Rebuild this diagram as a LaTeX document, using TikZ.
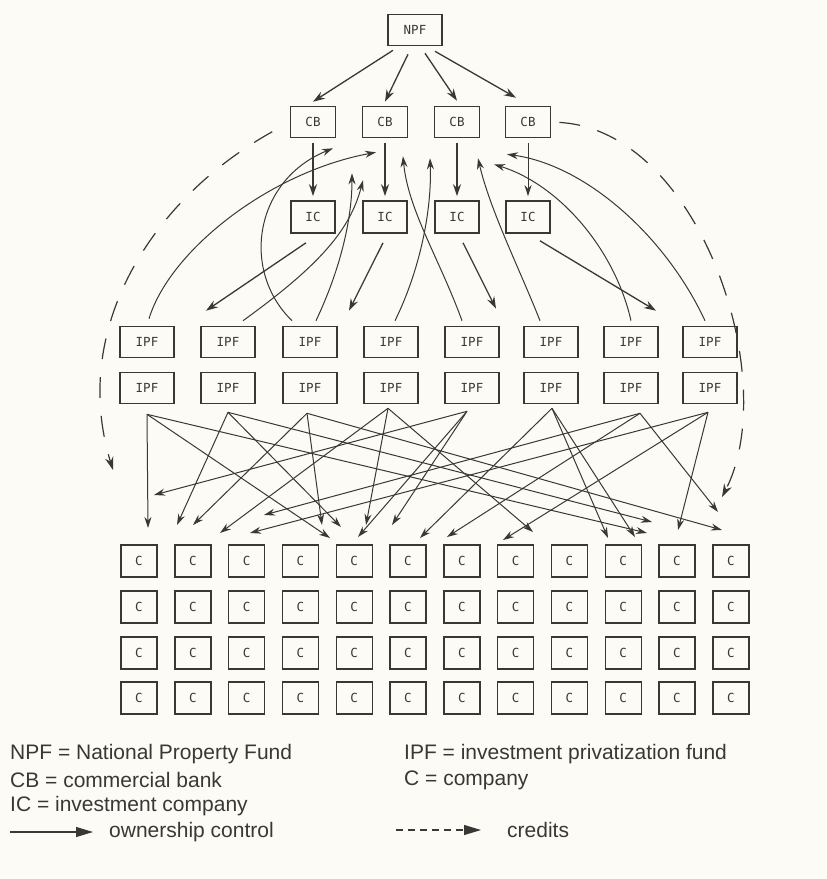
\documentclass[tikz,border=0pt]{standalone}
\usepackage{fontspec}
\setmainfont{Liberation Sans}
\newfontfamily\boxfont{DejaVu Sans Mono}
\usetikzlibrary{arrows.meta}
\definecolor{ink}{RGB}{58,56,54}
\definecolor{paper}{RGB}{252,251,245}
\begin{document}
\begin{tikzpicture}[x=1pt,y=-1pt,
  bx/.style={draw=ink, line width=1.6pt, inner sep=0pt, text=ink, font=\boxfont\fontsize{12.5}{14}\selectfont},
  npfbox/.style={bx, minimum width=54pt, minimum height=31pt},
  cbbox/.style={bx, minimum width=45pt, minimum height=31pt},
  ipfbox/.style={bx, minimum width=54pt, minimum height=31pt},
  cobox/.style={bx, line width=1.4pt, minimum width=36pt, minimum height=32pt},
  own/.style={draw=ink, line width=1.3pt, -{Stealth[length=12pt,width=8pt]}},
  ownthin/.style={draw=ink, line width=1pt, -{Stealth[length=11pt,width=7pt]}},
  tangle/.style={draw=ink, line width=1pt, -{Stealth[length=11pt,width=7pt]}},
  credit/.style={draw=ink, line width=1.2pt, dash pattern=on 21pt off 18pt, -{Stealth[length=13pt,width=8.5pt]}},
  legtext/.style={anchor=west, inner sep=0pt, text=ink, font=\fontsize{21}{24}\selectfont}
]
\fill[paper] (0,0) rectangle (827,879);
\useasboundingbox (0,0) rectangle (827,879);

% top levels
\node[npfbox] (npf) at (415,30) {NPF};
\foreach \i/\x in {1/313,2/385,3/457,4/528}{
  \node[cbbox] (cb\i) at (\x,122) {CB};
  \node[cbbox, minimum width=44pt, minimum height=32pt] (ic\i) at (\x,217) {IC};
}
% IPF rows
\foreach \i/\x in {1/147,2/228,3/310,4/391,5/472,6/551,7/631,8/710}{
  \node[ipfbox] (ipfA\i) at (\x,342) {IPF};
  \node[ipfbox] (ipfB\i) at (\x,388) {IPF};
}
% companies
\foreach \r/\y in {1/561,2/607,3/653,4/698}{
  \foreach \k in {1,...,12}{
    \pgfmathsetmacro{\cx}{139+53.8*(\k-1)}
    \node[cobox] (c\r-\k) at (\cx,\y) {C};
  }
}

% NPF -> CB
\draw[own] ([xshift=-22pt,yshift=-4pt]npf.south) -- ([yshift=4pt]cb1.north);
\draw[own] ([xshift=-7pt,yshift=-8pt]npf.south) -- ([yshift=4pt]cb2.north);
\draw[own] ([xshift=10pt,yshift=-7pt]npf.south) -- ([yshift=5pt]cb3.north);
\draw[own] ([xshift=20pt,yshift=-5pt]npf.south) -- ([xshift=-12pt,yshift=8pt]cb4.north);

% CB -> IC
\foreach \i in {1,2,3}{
  \draw[own] ([yshift=-5pt]cb\i.south) -- ([yshift=4pt]ic\i.north);
}
\draw[ownthin] ([yshift=-5pt]cb4.south) -- ([yshift=4pt]ic4.north);

% IC -> IPF
\draw[own] ([xshift=-7pt,yshift=-9pt]ic1.south) -- ([xshift=-22pt,yshift=15pt]ipfA2.north);
\draw[own] ([xshift=-2pt,yshift=-9pt]ic2.south) -- ([xshift=39pt,yshift=15pt]ipfA3.north);
\draw[own] ([xshift=6pt,yshift=-9pt]ic3.south) -- ([xshift=24pt,yshift=17pt]ipfA5.north);
\draw[own] ([xshift=12pt,yshift=-7pt]ic4.south) -- ([xshift=25pt,yshift=15pt]ipfA7.north);

% IPF -> CB (ownership curves)
\draw[ownthin] ([xshift=2pt,yshift=7pt]ipfA1.north) .. controls (170,250) and (270,172) .. ([xshift=-9pt,yshift=-14pt]cb2.south);
\draw[ownthin] ([xshift=15pt,yshift=5pt]ipfA2.north) .. controls (320,265) and (350,230) .. ([xshift=-22pt,yshift=-42pt]cb2.south);
\draw[ownthin] ([xshift=-18pt,yshift=5pt]ipfA3.north) .. controls (240,270) and (255,180) .. ([xshift=20pt,yshift=-10pt]cb1.south);
\draw[ownthin] ([xshift=6pt,yshift=5pt]ipfA3.north) .. controls (340,270) and (352,220) .. ([xshift=-33pt,yshift=-35pt]cb2.south);
\draw[ownthin] ([xshift=4pt,yshift=5pt]ipfA4.north) .. controls (420,270) and (432,210) .. ([xshift=-27pt,yshift=-20pt]cb3.south);
\draw[ownthin] ([xshift=-10pt,yshift=5pt]ipfA5.north) .. controls (440,260) and (408,210) .. ([xshift=18pt,yshift=-18pt]cb2.south);
\draw[ownthin] ([xshift=-11pt,yshift=5pt]ipfA6.north) .. controls (520,270) and (490,210) .. ([xshift=21pt,yshift=-20pt]cb3.south);
\draw[ownthin] ([yshift=5pt]ipfA7.north) .. controls (615,250) and (560,185) .. ([xshift=-34pt,yshift=-26pt]cb4.south);
\draw[ownthin] ([xshift=-5pt,yshift=5pt]ipfA8.north) .. controls (665,235) and (585,165) .. ([xshift=-21pt,yshift=-16pt]cb4.south);

% credits
\draw[credit, shorten <=20pt] (cb1.west) .. controls (150,200) and (70,330) .. (113,470) coordinate (crL);
\draw[credit, shorten <=8pt] (cb4.east) .. controls (700,130) and (782,380) .. (722,497) coordinate (crR);

% IPF -> C tangle
\coordinate (s1) at ([xshift=0pt,yshift=-10pt]ipfB1.south);
\coordinate (s2) at ([xshift=0pt,yshift=-8pt]ipfB2.south);
\coordinate (s3) at ([xshift=-3pt,yshift=-9pt]ipfB3.south);
\coordinate (s4) at ([xshift=-3pt,yshift=-4pt]ipfB4.south);
\coordinate (s5) at ([xshift=-5pt,yshift=-7pt]ipfB5.south);
\coordinate (s6) at ([xshift=1pt,yshift=-4pt]ipfB6.south);
\coordinate (s7) at ([xshift=9pt,yshift=-9pt]ipfB7.south);
\coordinate (s8) at ([xshift=-2pt,yshift=-8pt]ipfB8.south);

\coordinate (t1) at (148,528);
\coordinate (t2) at (154,495);
\coordinate (t3) at (177,525);
\coordinate (t4) at (193,525);
\coordinate (t5) at (220,533);
\coordinate (t6) at (250,533);
\coordinate (t7) at (264,515);
\coordinate (t8) at (322,525);
\coordinate (t9) at (330,538);
\coordinate (t10) at (341,527);
\coordinate (t11) at (358,537);
\coordinate (t12) at (366,525);
\coordinate (t13) at (392,525);
\coordinate (t14) at (420,538);
\coordinate (t15) at (447,537);
\coordinate (t16) at (503,540);
\coordinate (t17) at (533,532);
\coordinate (t18) at (608,538);
\coordinate (t19) at (635,537);
\coordinate (t20) at (647,533);
\coordinate (t21) at (652,522);
\coordinate (t22) at (678,530);
\coordinate (t23) at (718,512);
\coordinate (t24) at (722,530);

\foreach \s/\t in {1/1,1/9,1/20, 2/3,2/10,2/21, 3/4,3/8,3/24, 4/5,4/12,4/17,
                   5/2,5/11,5/13, 6/14,6/18,6/19, 7/7,7/15,7/23, 8/6,8/16,8/22}{
  \draw[tangle] (s\s) -- (t\t);
}

% legend
\node[legtext] (l1) at (10,754) {NPF = National Property Fund};
\node[legtext] (l2) at (10,780) {CB = commercial bank};
\node[legtext] (l3) at (10,806) {IC = investment company};
\node[legtext] (l4) at (109,832) {ownership control};
\node[legtext] (r1) at (404,754) {IPF = investment privatization fund};
\node[legtext] (r2) at (404,780) {C = company};
\node[legtext] (r3) at (507,830) {credits};
\coordinate (la) at (10,832);
\coordinate (lb) at (93,832);
\coordinate (lc) at (396,830);
\coordinate (ld) at (481,830);
\draw[draw=ink, line width=1.1pt, -{Triangle[length=17pt,width=10pt]}] (la) -- (lb);
\draw[draw=ink, line width=1.1pt, dash pattern=on 7pt off 5pt, -{Triangle[length=17pt,width=10pt]}] (lc) -- (ld);
\end{tikzpicture}
\end{document}
